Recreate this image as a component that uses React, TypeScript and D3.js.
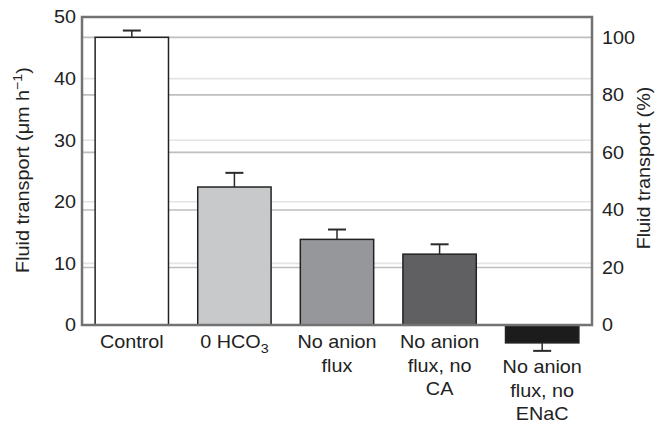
import React from "react";
import * as d3 from "d3";

const categories = ["Control", "0 HCO3", "No anion flux", "No anion flux, no CA", "No anion flux, no ENaC"];
const labelLines = [["Control"], ["0 HCO3"], ["No anion", "flux"], ["No anion", "flux, no", "CA"], ["No anion", "flux, no", "ENaC"]];
const values = [46.7, 22.4, 13.9, 11.5, -2.9];
const errors = [1.1, 2.3, 1.6, 1.6, 1.3];
const barColors = ["#ffffff", "#c8c9cb", "#96979b", "#606062", "#1c1c1c"];
const leftTicks = [0, 10, 20, 30, 40, 50];
const rightTicks = [0, 20, 40, 60, 80, 100];
const controlRef = 46.7;

const W = 657, H = 424;
const M = { left: 82, right: 592, top: 17, bottom: 325 };
const FONT = "'Liberation Sans', Arial, Helvetica, sans-serif";
const SX = 1.1;
const FS = 18;

function T({ x, y, rot = 0, anchor = "start", dy = "0", size = FS, children }: any) {
  return (
    <text
      transform={`translate(${x},${y}) rotate(${rot}) scale(${SX},1)`}
      textAnchor={anchor}
      dy={dy}
      fontSize={size}
      fill="#222"
    >
      {children}
    </text>
  );
}

export default function App() {
  const x = d3.scaleBand<string>().domain(categories).range([M.left, M.right]).paddingInner(0.285).paddingOuter(0.128);
  const y = d3.scaleLinear().domain([0, 50]).range([M.bottom, M.top]);
  const yr = d3.scaleLinear().domain([0, (50 / controlRef) * 100]).range([M.bottom, M.top]);
  const bw = x.bandwidth();
  return (
    <svg width={W} height={H} style={{ position: "absolute", left: 0, top: 0, background: "#fff" }} fontFamily={FONT}>
      {leftTicks.filter(t => t > 0 && t < 50).map(t => (
        <line key={"lg" + t} x1={M.left} x2={M.right} y1={y(t)} y2={y(t)} stroke="#e4e4e4" strokeWidth={1.6} />
      ))}
      {rightTicks.filter(t => t > 0).map(t => (
        <line key={"rg" + t} x1={M.left} x2={M.right} y1={yr(t)} y2={yr(t)} stroke="#bebebe" strokeWidth={1.6} />
      ))}
      {categories.map((c, i) => {
        const v = values[i];
        const y0 = y(Math.max(v, 0));
        const y1 = y(Math.min(v, 0));
        return (
          <rect key={c} x={x(c)} y={y0} width={bw} height={y1 - y0} fill={barColors[i]} stroke="#222" strokeWidth={1.5} />
        );
      })}
      <rect x={M.left} y={M.top} width={M.right - M.left} height={M.bottom - M.top} fill="none" stroke="#727272" strokeWidth={2.5} />
      {categories.map((c, i) => {
        const v = values[i];
        const cx = (x(c) as number) + bw / 2;
        const tip = v >= 0 ? v + errors[i] : v - errors[i];
        return (
          <g key={"e" + c} stroke="#2a2a2a" strokeWidth={1.5}>
            <line x1={cx} x2={cx} y1={y(v)} y2={y(tip)} />
            <line x1={cx - 9} x2={cx + 9} y1={y(tip)} y2={y(tip)} strokeWidth={2} />
          </g>
        );
      })}
      {leftTicks.map(t => (
        <T key={"lt" + t} x={76} y={y(t)} dy="0.36em" anchor="end">{t}</T>
      ))}
      {rightTicks.map(t => (
        <T key={"rt" + t} x={602} y={yr(t)} dy="0.36em" anchor="start">{t}</T>
      ))}
      {categories.map((c, i) => {
        const cx = (x(c) as number) + bw / 2;
        const base = values[i] < 0 ? 373 : 348;
        return labelLines[i].map((ln, j) => (
          <T key={c + j} x={cx} y={base + j * 23.5} anchor="middle">
            {ln === "0 HCO3" ? (
              <>
                0 HCO<tspan fontSize={13} dy="5">3</tspan>
              </>
            ) : ln}
          </T>
        ));
      })}
      <T x={29} y={170} rot={-90} anchor="middle">
        Fluid transport (μm h<tspan fontSize={13} dy="-7">−1</tspan><tspan dy="7">)</tspan>
      </T>
      <T x={650} y={168} rot={-90} anchor="middle">
        Fluid transport (%)
      </T>
    </svg>
  );
}
